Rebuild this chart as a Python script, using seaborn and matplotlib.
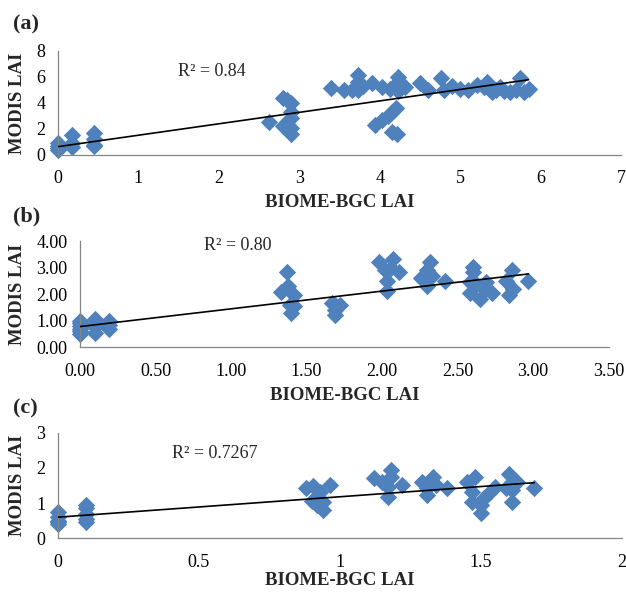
import matplotlib
matplotlib.use("Agg")
import matplotlib.pyplot as plt
import seaborn as sns
import numpy as np
import pandas as pd
from matplotlib.ticker import FormatStrFormatter, FuncFormatter

# ---------------- data ----------------
a_x = [0, 0, 0, 0, 0.17, 0.17, 0.17, 0.45, 0.45, 0.45, 0.45,
       2.62, 2.8, 2.8, 2.85, 2.85, 2.9, 2.9, 2.9, 2.9, 2.9,
       3.39, 3.56, 3.65, 3.73, 3.73, 3.73, 3.73, 3.79, 3.90, 4.03, 4.13,
       4.23, 4.23, 4.23, 4.23, 4.32,
       3.94, 4.03, 4.10, 4.15, 4.20, 4.15, 4.22,
       4.5, 4.6, 4.76, 4.8, 4.9, 5.1, 5.21, 5.33, 5.4, 5.5, 5.62, 5.75, 5.8, 5.85,
       5.0, 5.3, 5.45, 5.55, 5.7]
a_y = [0.9, 0.7, 0.5, 0.4, 1.5, 0.9, 0.6, 1.7, 1.2, 0.8, 0.7,
       2.5, 4.4, 2.2, 4.2, 2.5, 4.0, 3.3, 2.8, 2.1, 1.6,
       5.15, 5.0, 5.0, 6.1, 5.6, 5.2, 5.0, 5.3, 5.5, 5.2, 5.1,
       6.0, 5.6, 5.2, 4.9, 5.2,
       2.3, 2.7, 3.0, 3.3, 3.6, 1.8, 1.6,
       5.5, 5.0, 5.9, 5.0, 5.3, 5.0, 5.4, 5.6, 4.8, 5.2, 4.8, 5.9, 4.8, 5.1,
       5.1, 5.2, 5.0, 4.9, 5.0]

b_x = [0, 0, 0, 0, 0, 0, 0.1, 0.1, 0.1, 0.1, 0.19, 0.19, 0.19,
       1.37, 1.33, 1.38, 1.39, 1.40, 1.42, 1.42,
       1.69, 1.69, 1.67, 1.72, 1.69,
       1.98, 2.07, 2.02, 2.11, 2.03, 2.03, 2.06,
       2.32, 2.30, 2.26, 2.33, 2.30, 2.42,
       2.60, 2.58, 2.58, 2.62, 2.65, 2.69, 2.68, 2.73, 2.60,
       2.86, 2.82, 2.84, 2.87, 2.97]
b_y = [1.0, 0.9, 0.8, 0.7, 0.6, 0.5, 1.05, 0.9, 0.75, 0.55, 1.0, 0.85, 0.7,
       2.84, 2.09, 2.30, 1.60, 1.28, 1.95, 1.55,
       1.59, 1.22, 1.65, 1.60, 1.40,
       3.22, 3.34, 2.90, 2.85, 2.50, 2.10, 3.00,
       3.22, 2.90, 2.60, 2.70, 2.30, 2.50,
       3.04, 2.47, 2.05, 2.40, 1.82, 2.45, 2.15, 2.05, 2.85,
       2.90, 2.50, 1.95, 2.20, 2.50]

c_x = [0, 0, 0, 0, 0, 0.1, 0.1, 0.1, 0.1, 0.1,
       0.88, 0.906, 0.90, 0.92, 0.93, 0.966, 0.94, 0.94,
       1.12, 1.15, 1.18, 1.17, 1.17, 1.18, 1.22,
       1.29, 1.31, 1.33, 1.31, 1.34, 1.38,
       1.45, 1.48, 1.47, 1.47, 1.50, 1.50, 1.51, 1.53, 1.55,
       1.60, 1.59, 1.61, 1.63, 1.61, 1.69]
c_y = [0.75, 0.6, 0.5, 0.45, 0.4, 0.95, 0.85, 0.7, 0.55, 0.45,
       1.42, 1.50, 1.07, 0.95, 1.32, 1.52, 0.80, 1.04,
       1.70, 1.61, 1.94, 1.47, 1.18, 1.75, 1.51,
       1.61, 1.42, 1.75, 1.23, 1.51, 1.42,
       1.61, 1.75, 1.32, 1.04, 0.71, 0.95, 1.14, 1.28, 1.47,
       1.84, 1.42, 1.04, 1.61, 1.37, 1.42]

# linear trend lines: (intercept, slope)
trend_a = (0.64, 0.877)
trend_b = (0.78, 0.667)
trend_c = (0.60, 0.58)

panel_labels = ["(a)", "(b)", "(c)"]
r2_labels = ["R\u00b2 = 0.84", "R\u00b2 = 0.80", "R\u00b2 = 0.7267"]
x_title = "BIOME-BGC LAI"
y_title = "MODIS LAI"

# ---------------- style ----------------
sns.set_style("white")
plt.rcParams["font.family"] = ["Liberation Serif", "DejaVu Serif"]

W, H = 626, 598
fig = plt.figure(figsize=(W / 100, H / 100), dpi=100)

def add_ax(left, right, top, bottom):
    return fig.add_axes([left / W, 1 - bottom / H, (right - left) / W, (bottom - top) / H])

BLUE = "#4F81BD"
GRAY = "#868686"

specs = [
    dict(x=a_x, y=a_y, trend=trend_a, box=(58, 621, 50.7, 155), xlim=(0, 7), xt=np.arange(0, 8, 1),
         ylim=(0, 8), yt=np.arange(0, 9, 2), xfmt="int", yfmt="int",
         lab=(13, 24), r2=(212, 71), xl_dy=48),
    dict(x=b_x, y=b_y, trend=trend_b, box=(80, 608.5, 241, 347.3), xlim=(0, 3.5), xt=np.arange(0, 3.51, 0.5),
         ylim=(0, 4), yt=np.arange(0, 4.01, 1), xfmt="2f", yfmt="2f",
         lab=(13, 216), r2=(238, 246), xl_dy=48),
    dict(x=c_x, y=c_y, trend=trend_c, box=(58, 621.7, 432.7, 538.3), xlim=(0, 2), xt=np.arange(0, 2.01, 0.5),
         ylim=(0, 3), yt=np.arange(0, 3.01, 1), xfmt="g", yfmt="int",
         lab=(13, 408), r2=(215, 454), xl_dy=42),
]

def fmt(kind):
    if kind == "2f":
        return FormatStrFormatter("%.2f")
    if kind == "int":
        return FuncFormatter(lambda v, p: f"{int(round(v))}")
    return FuncFormatter(lambda v, p: f"{v:g}")

for i, s in enumerate(specs):
    l, r, t, b = s["box"]
    ax = add_ax(l, r, t, b)
    df = pd.DataFrame({"x": s["x"], "y": s["y"]})
    sns.scatterplot(data=df, x="x", y="y", ax=ax, marker="D", s=78, color=BLUE,
                    linewidth=0, alpha=1, zorder=2, clip_on=False)
    b0, b1 = s["trend"]
    xs = np.array([min(s["x"]), max(s["x"])])
    tl = pd.DataFrame({"x": xs, "y": b0 + b1 * xs})
    sns.lineplot(data=tl, x="x", y="y", ax=ax, color="black", lw=1.2, zorder=3)
    ax.set_xlim(*s["xlim"])
    ax.set_ylim(*s["ylim"])
    ax.set_xticks(s["xt"])
    ax.set_yticks(s["yt"])
    ax.xaxis.set_major_formatter(fmt(s["xfmt"]))
    ax.yaxis.set_major_formatter(fmt(s["yfmt"]))
    for sp in ["top", "right"]:
        ax.spines[sp].set_visible(False)
    for sp in ["left", "bottom"]:
        ax.spines[sp].set_color(GRAY)
        ax.spines[sp].set_linewidth(0.9)
    ax.tick_params(axis="both", direction="out", length=5, width=0.9, color=GRAY,
                   labelsize=13, labelcolor="black", pad=4)
    ax.tick_params(axis="x", pad=6)
    ax.set_xlabel(x_title, fontsize=13.5, fontweight="bold")
    ax.set_ylabel(y_title, fontsize=13.5, fontweight="bold")
    axw = r - l
    axh = b - t
    ax.xaxis.set_label_coords(0.5, -s["xl_dy"] / axh)
    ax.xaxis.label.set_va("center")
    ax.yaxis.set_label_coords((18 - l) / axw, 0.5)
    ax.yaxis.label.set_va("center")
    fig.text(s["lab"][0] / W, 1 - s["lab"][1] / H, panel_labels[i], fontsize=16,
             fontweight="bold", ha="left", va="center")
    fig.text(s["r2"][0] / W, 1 - s["r2"][1] / H, r2_labels[i], fontsize=13,
             ha="center", va="center")

fig.savefig("out.png", dpi=100)
